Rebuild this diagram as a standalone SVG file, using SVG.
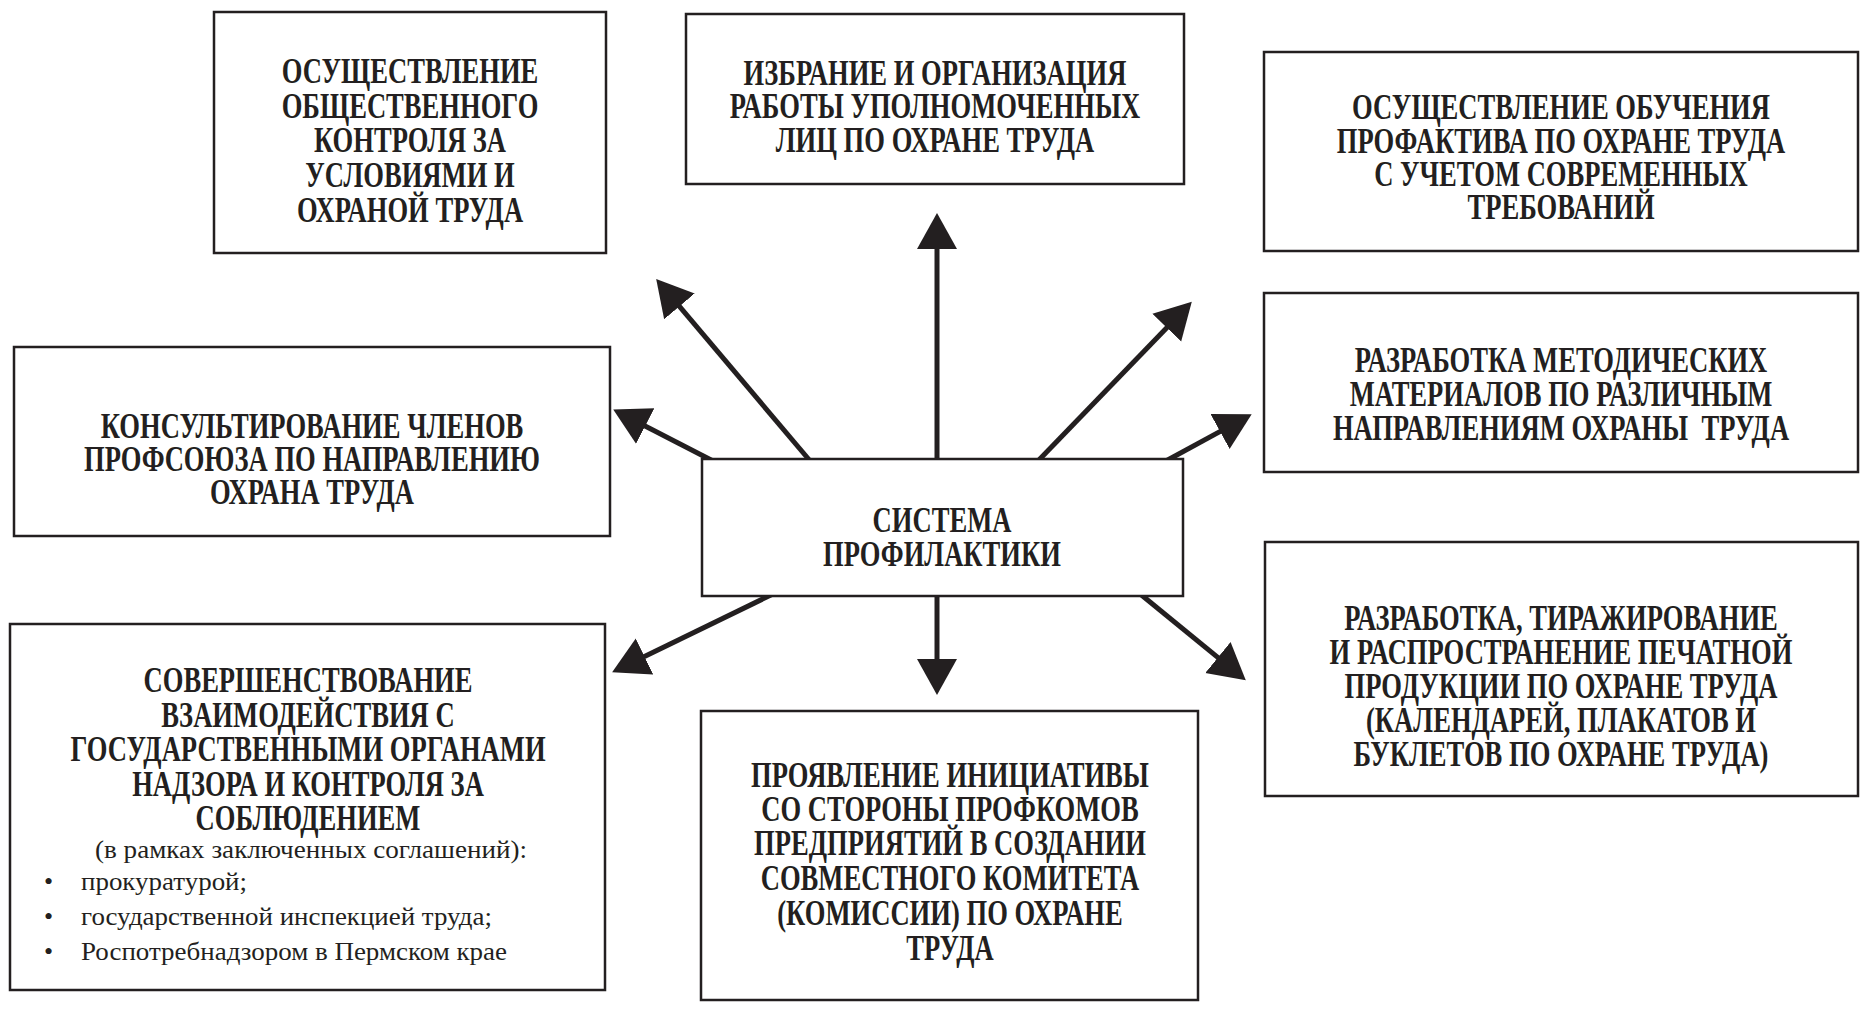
<svg xmlns="http://www.w3.org/2000/svg" width="1863" height="1027" viewBox="0 0 1863 1027">
<style>
.box{fill:#fff;stroke:#231f20;stroke-width:2.5}
.t{font-family:"Liberation Serif","Times New Roman",serif;font-weight:bold;font-size:35px;fill:#231f20;text-anchor:middle}
.r{font-family:"Liberation Serif","Times New Roman",serif;font-size:26px;fill:#231f20}
.conn line{stroke:#231f20;stroke-width:5;marker-end:url(#ah)}
</style>
<defs>
<marker id="ah" markerUnits="userSpaceOnUse" viewBox="0 -21 37 42" refX="16" refY="0" markerWidth="37" markerHeight="42" orient="auto">
<path d="M0,-20 L36,0 L0,20 Z" fill="#231f20"/>
</marker>
</defs>
<rect width="1863" height="1027" fill="#fff"/>
<g id="connectors" class="conn">
<line x1="937" y1="462" x2="937" y2="233"/>
<line x1="811" y1="462" x2="669.1" y2="294.2"/>
<line x1="715" y1="462" x2="631" y2="418.7"/>
<line x1="1037" y1="462" x2="1177.9" y2="316.2"/>
<line x1="1164" y1="462" x2="1234.1" y2="423.9"/>
<line x1="775" y1="593" x2="630.1" y2="663.5"/>
<line x1="937" y1="593" x2="937" y2="675"/>
<line x1="1139" y1="593" x2="1230.3" y2="667.6"/>
</g>
<g id="center">
<rect class="box" x="702" y="459" width="481" height="137"/>
<g transform="translate(942,0) scale(0.76,1)">
<text class="t" x="0" y="532">СИСТЕМА</text>
<text class="t" x="0" y="566">ПРОФИЛАКТИКИ</text>
</g>
</g>
<g id="n1">
<rect class="box" x="214" y="12" width="392" height="241"/>
<g transform="translate(410,0) scale(0.76,1)">
<text class="t" x="0" y="83">ОСУЩЕСТВЛЕНИЕ</text>
<text class="t" x="0" y="118">ОБЩЕСТВЕННОГО</text>
<text class="t" x="0" y="152">КОНТРОЛЯ ЗА</text>
<text class="t" x="0" y="187">УСЛОВИЯМИ И</text>
<text class="t" x="0" y="222">ОХРАНОЙ ТРУДА</text>
</g>
</g>
<g id="n2">
<rect class="box" x="686" y="14" width="498" height="170"/>
<g transform="translate(935,0) scale(0.76,1)">
<text class="t" x="0" y="85">ИЗБРАНИЕ И ОРГАНИЗАЦИЯ</text>
<text class="t" x="0" y="118">РАБОТЫ УПОЛНОМОЧЕННЫХ</text>
<text class="t" x="0" y="152">ЛИЦ ПО ОХРАНЕ ТРУДА</text>
</g>
</g>
<g id="n3">
<rect class="box" x="1264" y="52" width="594" height="199"/>
<g transform="translate(1561,0) scale(0.76,1)">
<text class="t" x="0" y="119">ОСУЩЕСТВЛЕНИЕ ОБУЧЕНИЯ</text>
<text class="t" x="0" y="153">ПРОФАКТИВА ПО ОХРАНЕ ТРУДА</text>
<text class="t" x="0" y="186">С УЧЕТОМ СОВРЕМЕННЫХ</text>
<text class="t" x="0" y="219">ТРЕБОВАНИЙ</text>
</g>
</g>
<g id="n4">
<rect class="box" x="14" y="347" width="596" height="189"/>
<g transform="translate(312,0) scale(0.76,1)">
<text class="t" x="0" y="438">КОНСУЛЬТИРОВАНИЕ ЧЛЕНОВ</text>
<text class="t" x="0" y="471">ПРОФСОЮЗА ПО НАПРАВЛЕНИЮ</text>
<text class="t" x="0" y="504">ОХРАНА ТРУДА</text>
</g>
</g>
<g id="n5">
<rect class="box" x="1264" y="293" width="594" height="179"/>
<g transform="translate(1561,0) scale(0.76,1)">
<text class="t" x="0" y="372">РАЗРАБОТКА МЕТОДИЧЕСКИХ</text>
<text class="t" x="0" y="406">МАТЕРИАЛОВ ПО РАЗЛИЧНЫМ</text>
<text class="t" x="0" y="440">НАПРАВЛЕНИЯМ ОХРАНЫ&#160; ТРУДА</text>
</g>
</g>
<g id="n6">
<rect class="box" x="10" y="624" width="595" height="366"/>
<g transform="translate(308,0) scale(0.76,1)">
<text class="t" x="0" y="692">СОВЕРШЕНСТВОВАНИЕ</text>
<text class="t" x="0" y="727">ВЗАИМОДЕЙСТВИЯ С</text>
<text class="t" x="0" y="761">ГОСУДАРСТВЕННЫМИ ОРГАНАМИ</text>
<text class="t" x="0" y="796">НАДЗОРА И КОНТРОЛЯ ЗА</text>
<text class="t" x="0" y="830">СОБЛЮДЕНИЕМ</text>
</g>
<text class="r" x="95" y="858" textLength="432" lengthAdjust="spacingAndGlyphs">(в рамках заключенных соглашений):</text>
<text class="r" x="44" y="890">•</text>
<text class="r" x="44" y="925">•</text>
<text class="r" x="44" y="960">•</text>
<text class="r" x="81" y="890" textLength="166" lengthAdjust="spacingAndGlyphs">прокуратурой;</text>
<text class="r" x="81" y="925" textLength="411" lengthAdjust="spacingAndGlyphs">государственной инспекцией труда;</text>
<text class="r" x="81" y="960" textLength="426" lengthAdjust="spacingAndGlyphs">Роспотребнадзором в Пермском крае</text>
</g>
<g id="n7">
<rect class="box" x="701" y="711" width="497" height="289"/>
<g transform="translate(950,0) scale(0.76,1)">
<text class="t" x="0" y="787">ПРОЯВЛЕНИЕ ИНИЦИАТИВЫ</text>
<text class="t" x="0" y="821">СО СТОРОНЫ ПРОФКОМОВ</text>
<text class="t" x="0" y="855">ПРЕДПРИЯТИЙ В СОЗДАНИИ</text>
<text class="t" x="0" y="890">СОВМЕСТНОГО КОМИТЕТА</text>
<text class="t" x="0" y="925">(КОМИССИИ) ПО ОХРАНЕ</text>
<text class="t" x="0" y="960">ТРУДА</text>
</g>
</g>
<g id="n8">
<rect class="box" x="1265" y="542" width="593" height="254"/>
<g transform="translate(1561,0) scale(0.76,1)">
<text class="t" x="0" y="630">РАЗРАБОТКА, ТИРАЖИРОВАНИЕ</text>
<text class="t" x="0" y="664">И РАСПРОСТРАНЕНИЕ ПЕЧАТНОЙ</text>
<text class="t" x="0" y="698">ПРОДУКЦИИ ПО ОХРАНЕ ТРУДА</text>
<text class="t" x="0" y="732">(КАЛЕНДАРЕЙ, ПЛАКАТОВ И</text>
<text class="t" x="0" y="766">БУКЛЕТОВ ПО ОХРАНЕ ТРУДА)</text>
</g>
</g>
</svg>
